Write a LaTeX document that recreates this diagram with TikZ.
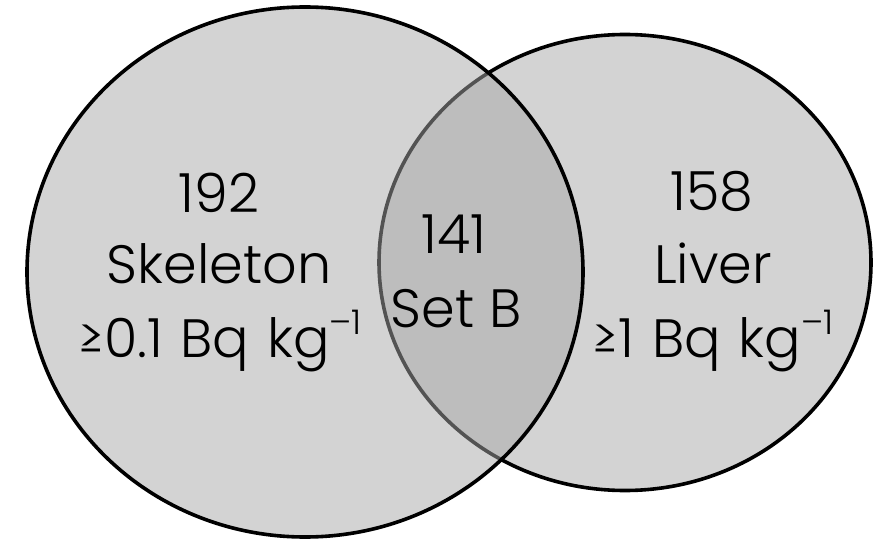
\documentclass[tikz,border=0pt]{standalone}
\usepackage{fontspec}
\setmainfont{Poppins Light}
\newcommand{\kgunit}{kg\raisebox{0.42em}{\fontsize{34}{34}\selectfont –1}}
\newcommand{\widespace}{\spaceskip=0.33em\relax}
\tikzset{
  setshape/.style={draw=black, line width=3.6pt, fill={rgb,255:red,167;green,167;blue,167}, fill opacity=0.5},
  lbl/.style={anchor=base, inner sep=0pt, text=black, font=\fontsize{54}{60}\selectfont},
  unitlbl/.style={lbl, font=\fontsize{54}{60}\selectfont\widespace}
}
\begin{document}
\begin{tikzpicture}[x=1pt,y=1pt]
\useasboundingbox (0,0) rectangle (884,542);
\path[setshape] (625,279.5) ellipse [x radius=246, y radius=228];
\path[setshape] (305,270) ellipse [x radius=278, y radius=265];
\node[lbl] (a1) at (219,330) {192};
\node[lbl] (a2) at (219,259) {Skeleton};
\node[unitlbl] (a3) at (220,185) {≥0.1 Bq \kgunit};
\node[lbl] (b1) at (454,289) {141};
\node[lbl] (b2) at (456,215) {Set B};
\node[lbl] (c1) at (712,331) {158};
\node[lbl] (c2) at (713,259) {Liver};
\node[unitlbl] (c3) at (713,185) {≥1 Bq \kgunit};
\end{tikzpicture}
\end{document}
